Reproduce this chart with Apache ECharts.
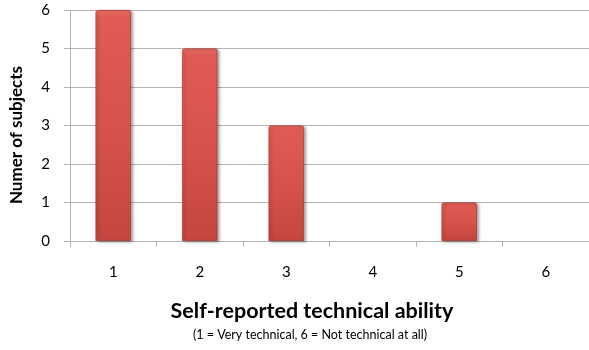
<!DOCTYPE html>
<html>
<head>
<meta charset="utf-8">
<script src="https://cdn.jsdelivr.net/npm/echarts@6/dist/echarts.min.js"></script>
<style>
  html, body { margin: 0; padding: 0; background: #fff; }
  #chart { width: 589px; height: 350px; }
</style>
</head>
<body>
<div id="chart"></div>
<script>
// Survey responses: how many subjects chose each ability level
const abilityLevels = ['1', '2', '3', '4', '5', '6'];
const subjectCounts = [6, 5, 3, 0, 1, 0];
const countTicks = [0, 1, 2, 3, 4, 5, 6];

const FONT = 'Lato, "Open Sans", sans-serif';

const chart = echarts.init(document.getElementById('chart'), null, { renderer: 'canvas' });

// bevelled red: light rim at the top, darker towards the base
const barFill = new echarts.graphic.LinearGradient(0, 0, 0, 1, [
  { offset: 0, color: '#ec7068' },
  { offset: 0.03, color: '#e05b53' },
  { offset: 0.5, color: '#d6534b' },
  { offset: 1, color: '#c4463f' }
]);

chart.setOption({
  animation: false,
  grid: { left: 70, right: -3, top: 10, bottom: 109, containLabel: false },
  xAxis: {
    type: 'category',
    data: abilityLevels,
    boundaryGap: true,
    axisLine: { show: true, lineStyle: { color: '#b3b3b3', width: 1 } },
    axisTick: { show: true, length: 6, lineStyle: { color: '#b3b3b3' } },
    axisLabel: { color: '#000', fontFamily: FONT, fontSize: 15, margin: 24 },
    splitLine: { show: false }
  },
  yAxis: {
    type: 'value',
    min: countTicks[0],
    max: countTicks[countTicks.length - 1],
    interval: 1,
    axisLine: { show: true, lineStyle: { color: '#b3b3b3', width: 1 } },
    axisTick: { show: true, length: 6, lineStyle: { color: '#b3b3b3' } },
    axisLabel: { color: '#000', fontFamily: FONT, fontSize: 15, margin: 20 },
    splitLine: { show: true, lineStyle: { color: '#b3b3b3', width: 1 } }
  },
  series: [{
    type: 'bar',
    // empty categories carry no bar at all
    data: subjectCounts.map(v => (v === 0 ? '-' : v)),
    barWidth: '41%',
    itemStyle: {
      color: barFill,
      borderColor: '#a93a33',
      borderWidth: 0.7,
      borderRadius: [2, 2, 0, 0],
      shadowColor: 'rgba(0,0,0,0.35)',
      shadowBlur: 3,
      shadowOffsetX: 2,
      shadowOffsetY: 1
    }
  }],
  graphic: [
    {
      type: 'text',
      x: 312,
      y: 311,
      style: {
        text: 'Self-reported technical ability',
        font: 'bold 21.5px ' + FONT,
        fill: '#000',
        align: 'center',
        verticalAlign: 'middle'
      }
    },
    {
      type: 'text',
      x: 310,
      y: 335,
      style: {
        text: '(1 = Very technical, 6 = Not technical at all)',
        font: '12.5px ' + FONT,
        fill: '#000',
        align: 'center',
        verticalAlign: 'middle'
      }
    },
    {
      type: 'text',
      x: 17,
      y: 135,
      rotation: Math.PI / 2,
      style: {
        text: 'Numer of subjects',
        font: 'bold 17px ' + FONT,
        fill: '#000',
        align: 'center',
        verticalAlign: 'middle'
      }
    }
  ]
});
</script>
</body>
</html>
